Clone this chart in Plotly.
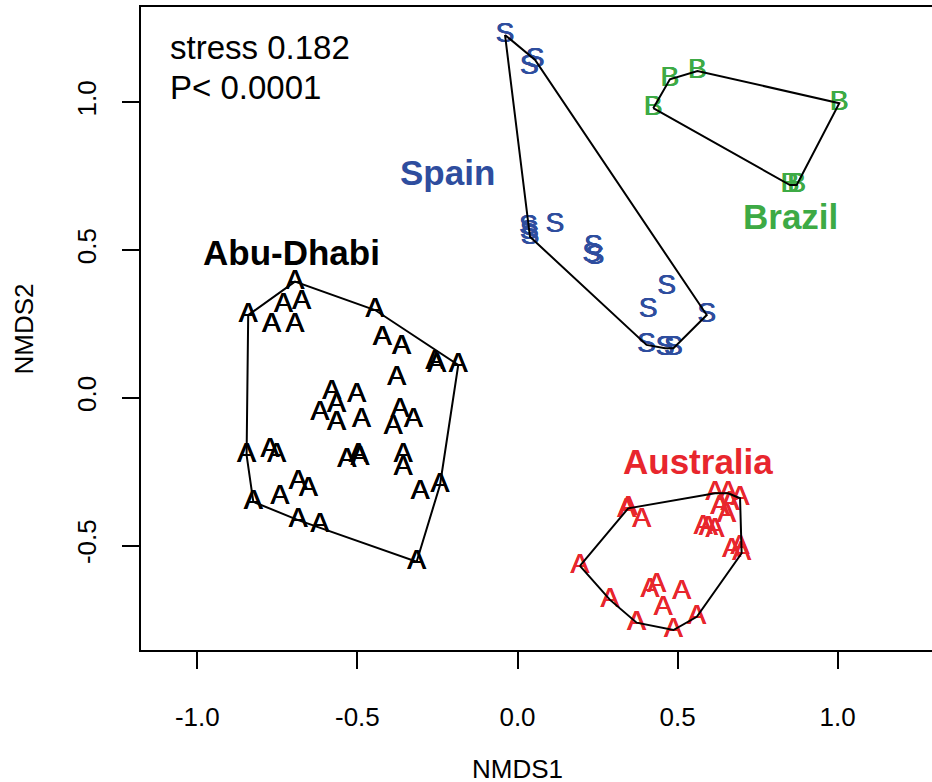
import plotly.graph_objects as go

# ---------------- data (NMDS scores) ----------------
abu_x = [-0.695, -0.841, -0.731, -0.674, -0.768, -0.695, -0.445, -0.422, -0.362, -0.258,
         -0.252, -0.185, -0.377, -0.580, -0.502, -0.565, -0.617, -0.565, -0.487, -0.367,
         -0.325, -0.388, -0.846, -0.773, -0.752, -0.533, -0.497, -0.492, -0.357, -0.357,
         -0.685, -0.653, -0.742, -0.825, -0.685, -0.617, -0.304, -0.242, -0.315]
abu_y = [0.393, 0.280, 0.314, 0.325, 0.246, 0.246, 0.297, 0.201, 0.173, 0.122,
         0.111, 0.111, 0.066, 0.021, 0.009, -0.024, -0.052, -0.086, -0.075, -0.041,
         -0.075, -0.098, -0.194, -0.177, -0.194, -0.210, -0.194, -0.205, -0.194, -0.239,
         -0.284, -0.310, -0.335, -0.352, -0.414, -0.431, -0.318, -0.295, -0.555]

spain_x = [-0.039, 0.037, 0.055, 0.037, 0.034, 0.039, 0.117, 0.237, 0.232, 0.242,
           0.466, 0.408, 0.591, 0.403, 0.461, 0.487]
spain_y = [1.228, 1.120, 1.143, 0.562, 0.579, 0.545, 0.585, 0.511, 0.483, 0.477,
           0.376, 0.297, 0.280, 0.179, 0.168, 0.168]

brazil_x = [0.476, 0.562, 0.424, 1.005, 0.851, 0.872]
brazil_y = [1.078, 1.106, 0.980, 0.997, 0.720, 0.720]

aus_x = [0.195, 0.289, 0.372, 0.487, 0.560, 0.341, 0.346, 0.388, 0.617, 0.658,
         0.695, 0.632, 0.664, 0.653, 0.580, 0.596, 0.617, 0.669, 0.695, 0.700,
         0.414, 0.435, 0.513, 0.455]
aus_y = [-0.569, -0.684, -0.761, -0.786, -0.741, -0.380, -0.374, -0.414, -0.323, -0.323,
         -0.340, -0.369, -0.357, -0.397, -0.436, -0.442, -0.447, -0.515, -0.504, -0.526,
         -0.650, -0.634, -0.656, -0.712]

group_names = ["Abu-Dhabi", "Spain", "Brazil", "Australia"]
group_letters = ["A", "S", "B", "A"]
group_colors = ["#000000", "#2E4D9E", "#3DAA45", "#E8262D"]
label_x = [-0.707, -0.220, 0.854, 0.564]
label_y = [0.493, 0.764, 0.615, -0.214]

x_ticks = [-1.0, -0.5, 0.0, 0.5, 1.0]
y_ticks = [-0.5, 0.0, 0.5, 1.0]
stats_text = ["stress 0.182", "P< 0.0001"]

FONT = "Arial, Liberation Sans, Helvetica, sans-serif"


def convex_hull(xs, ys):
    pts = sorted(set(zip(xs, ys)))
    if len(pts) < 3:
        return pts

    def cross(o, a, b):
        return (a[0] - o[0]) * (b[1] - o[1]) - (a[1] - o[1]) * (b[0] - o[0])

    lower = []
    for p in pts:
        while len(lower) >= 2 and cross(lower[-2], lower[-1], p) <= 0:
            lower.pop()
        lower.append(p)
    upper = []
    for p in reversed(pts):
        while len(upper) >= 2 and cross(upper[-2], upper[-1], p) <= 0:
            upper.pop()
        upper.append(p)
    hull = lower[:-1] + upper[:-1]
    return hull + [hull[0]]


groups = [(abu_x, abu_y), (spain_x, spain_y), (brazil_x, brazil_y), (aus_x, aus_y)]

fig = go.Figure()

for (gx, gy), letter, col, name in zip(groups, group_letters, group_colors, group_names):
    fig.add_trace(go.Scatter(
        x=gx, y=gy, mode="text", text=[letter] * len(gx),
        textposition="middle center",
        textfont=dict(family=FONT, size=28, color=col,
                      shadow="0.4px 0 0 %s, -0.4px 0 0 %s" % (col, col)),
        name=name, showlegend=False, hoverinfo="skip"))

for (gx, gy) in groups:
    h = convex_hull(gx, gy)
    fig.add_trace(go.Scatter(
        x=[p[0] for p in h], y=[p[1] for p in h], mode="lines",
        line=dict(color="black", width=2), showlegend=False, hoverinfo="skip"))

for name, col, lx, ly in zip(group_names, group_colors, label_x, label_y):
    fig.add_annotation(x=lx, y=ly, xref="x", yref="y", text="<b>%s</b>" % name,
                       showarrow=False, xanchor="center", yanchor="middle",
                       font=dict(family=FONT, size=35, color=col))

fig.add_annotation(x=0.034, y=0.937, xref="paper", yref="paper",
                   text=stats_text[0], showarrow=False, xanchor="left", yanchor="middle",
                   font=dict(family=FONT, size=33, color="black"))
fig.add_annotation(x=0.034, y=0.875, xref="paper", yref="paper",
                   text=stats_text[1], showarrow=False, xanchor="left", yanchor="middle",
                   font=dict(family=FONT, size=33, color="black"))

# axis titles
fig.add_annotation(x=0.476, y=-0.185, xref="paper", yref="paper", text="NMDS1",
                   showarrow=False, xanchor="center", yanchor="middle",
                   font=dict(family=FONT, size=26, color="black"))
fig.add_annotation(x=-0.148, y=0.50, xref="paper", yref="paper", text="NMDS2",
                   showarrow=False, xanchor="center", yanchor="middle", textangle=-90,
                   font=dict(family=FONT, size=26, color="black"))

fig.update_layout(
    width=932, height=782,
    margin=dict(l=141, r=0, t=7, b=132, autoexpand=False),
    paper_bgcolor="white", plot_bgcolor="white",
    showlegend=False,
    xaxis=dict(range=[-1.1758, 1.2945], tickvals=x_ticks,
               ticktext=["%.1f" % v for v in x_ticks], automargin=False,
               showgrid=False, zeroline=False, showline=True, linecolor="black",
               linewidth=2, mirror=True, ticks="outside", ticklen=17, tickwidth=2,
               tickcolor="black", ticklabelstandoff=26,
               tickfont=dict(family=FONT, size=26, color="black")),
    yaxis=dict(range=[-0.8535, 1.3225], tickvals=y_ticks,
               ticktext=["%.1f" % v for v in y_ticks], automargin=False,
               showgrid=False, zeroline=False, showline=True, linecolor="black",
               linewidth=2, mirror=False, ticks="outside", ticklen=17, tickwidth=2,
               tickcolor="black", tickangle=-90, ticklabelstandoff=16,
               tickfont=dict(family=FONT, size=26, color="black")),
)

fig.write_html("out.html",
               config={"displayModeBar": False},
               post_script="document.body.style.margin='0';"
                           "document.body.style.overflow='hidden';")
